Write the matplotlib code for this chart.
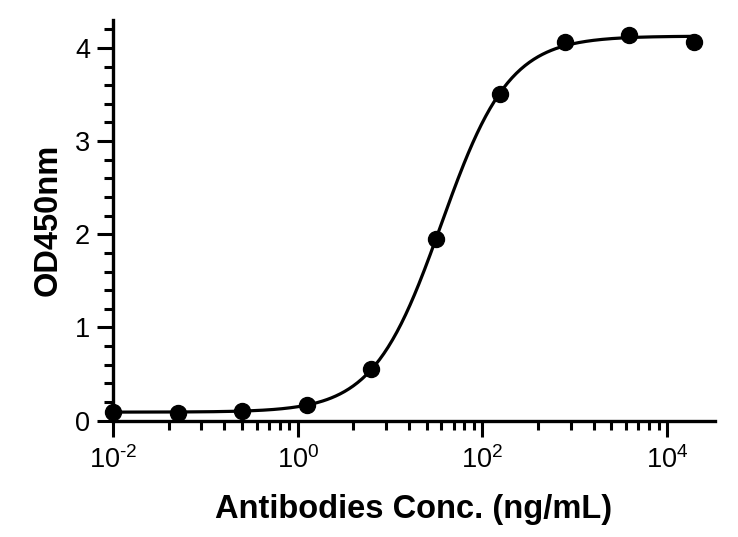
import numpy as np
import matplotlib
matplotlib.use("Agg")
import matplotlib.pyplot as plt
from matplotlib.ticker import FixedLocator, NullFormatter

plt.rcParams['font.family'] = ['Liberation Sans', 'DejaVu Sans']
plt.rcParams['mathtext.fontset'] = 'custom'
plt.rcParams['mathtext.rm'] = 'Liberation Sans'

# Data
conc = [0.01, 0.05, 0.25, 1.25, 6.25, 31.25, 156.25, 781.25, 3906.25, 19531.25]
od450 = [0.097, 0.080, 0.104, 0.169, 0.552, 1.948, 3.51, 4.064, 4.14, 4.064]
xtick_vals = [1e-2, 1e0, 1e2, 1e4]
xtick_labels = [r'10$^{\text{-}\mathregular{2}}$', r'10$^{\mathregular{0}}$',
                r'10$^{\mathregular{2}}$', r'10$^{\mathregular{4}}$']
ytick_vals = [0, 1, 2, 3, 4]

x = np.array(conc)
y = np.array(od450)

# 4-parameter logistic fit (grid over EC50/hill, linear solve for bottom/top)
best = None
lx = np.log10(x)
for logec in np.linspace(0, 3, 601):
    for hill in np.linspace(0.5, 3.0, 251):
        s = 1.0 / (1.0 + 10 ** ((logec - lx) * hill))
        A = np.column_stack([1 - s, s])
        coef, *_ = np.linalg.lstsq(A, y, rcond=None)
        r = np.sum((A @ coef - y) ** 2)
        if best is None or r < best[0]:
            best = (r, logec, hill, coef)
_, logec, hill, (bottom, top) = best
xf = np.logspace(-2, np.log10(max(conc)), 400)
sf = 1.0 / (1.0 + 10 ** ((logec - np.log10(xf)) * hill))
yf = bottom + (top - bottom) * sf

fig = plt.figure(figsize=(7.38, 5.37), dpi=100)
ax = fig.add_axes([0.1531, 0.2166, 0.9688 - 0.1531, 0.9628 - 0.2166])
ax.set_xscale('log')
ax.plot(xf, yf, color='black', lw=2.3, zorder=2, solid_capstyle='round')
ax.plot(x, y, 'o', color='black', ms=11.5, zorder=3, clip_on=False)

ax.set_xlim(1e-2, 3.3e4)
ax.set_ylim(0, 4.3)

for side in ['top', 'right']:
    ax.spines[side].set_visible(False)
for side in ['left', 'bottom']:
    ax.spines[side].set_linewidth(2.4)

ax.xaxis.set_major_locator(FixedLocator(xtick_vals))
ax.set_xticklabels(xtick_labels)
minor = []
for n in [-1, 0, 1, 2]:
    for k in range(2, 10):
        v = 100.0 ** n * k ** 2
        if v <= 3.3e4:
            minor.append(v)
ax.xaxis.set_minor_locator(FixedLocator(minor))
ax.xaxis.set_minor_formatter(NullFormatter())

ax.set_yticks(ytick_vals)
ax.yaxis.set_minor_locator(FixedLocator(np.arange(0, 4.3, 0.2)))

ax.tick_params(which='major', length=11.5, width=2.2, labelsize=19.5, direction='out')
ax.tick_params(axis='x', which='major', pad=7)
ax.tick_params(axis='y', which='major', pad=5)
ax.tick_params(which='minor', length=6.5, width=2.2, direction='out')

ax.set_xlabel('Antibodies Conc. (ng/mL)', fontsize=23.5, fontweight='bold', labelpad=14)
ax.set_ylabel('OD450nm', fontsize=23.5, fontweight='bold', labelpad=8)

fig.savefig('out.png', dpi=100)
